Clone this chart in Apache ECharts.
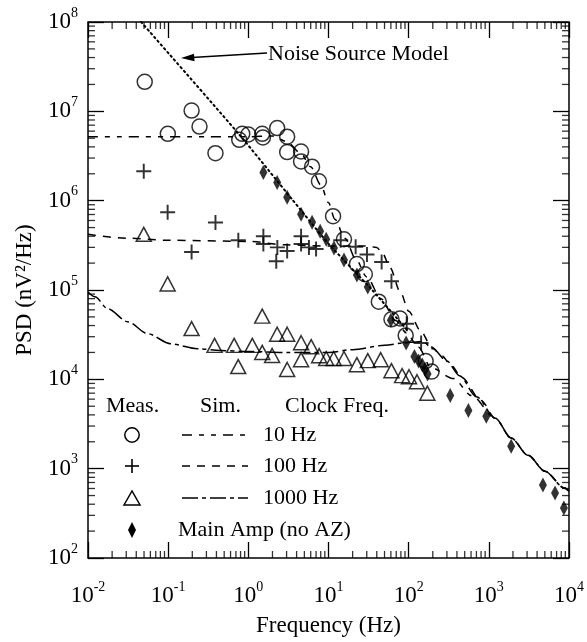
<!DOCTYPE html>
<html><head><meta charset="utf-8">
<script src="https://cdn.jsdelivr.net/npm/echarts@6/dist/echarts.min.js"></script>
<style>html,body{margin:0;padding:0;background:#fff}#c{width:587px;height:642px}</style>
</head><body><div id="c"></div>
<script>
// ---- axis decades (tick labels are 10^n) ----
const xDecades = [-2, -1, 0, 1, 2, 3, 4];
const yDecades = [2, 3, 4, 5, 6, 7, 8];

// ---- measured data: [frequency Hz, PSD nV^2/Hz] ----
const meas10Hz = [
  [0.051, 2.14e7], [0.099, 5.6e6], [0.196, 1.02e7], [0.246, 6.75e6], [0.389, 3.4e6],
  [0.77, 4.8e6], [0.84, 5.6e6], [1.0, 5.5e6], [1.49, 5.6e6], [1.52, 5.1e6],
  [2.29, 6.5e6], [3.05, 5.2e6], [3.05, 3.5e6], [4.55, 3.55e6], [4.55, 2.75e6],
  [6.24, 2.4e6], [7.6, 1.65e6], [11.4, 6.7e5], [15.6, 3.7e5], [22.6, 1.95e5],
  [28.4, 1.5e5], [42.4, 7.4e4], [61, 4.7e4], [78, 4.8e4], [91.8, 3.1e4],
  [163, 1.6e4], [193, 1.22e4]
];
const meas100Hz = [
  [0.0496, 2.13e6], [0.0985, 7.4e5], [0.196, 2.66e5], [0.389, 5.7e5], [0.75, 3.6e5],
  [1.54, 4.0e5], [1.54, 3.27e5], [2.3, 3.0e5], [2.23, 2.1e5], [3.05, 2.73e5],
  [4.55, 4.0e5], [4.55, 3.27e5], [5.7, 3.0e5], [7.0, 2.87e5], [14.2, 3.6e5],
  [21.8, 3.05e5], [30.2, 2.5e5], [46.0, 2.06e5], [61.0, 1.25e5], [94.5, 4.2e4],
  [143, 2.55e4]
];
const meas1000Hz = [
  [0.0496, 4.2e5], [0.0985, 1.17e5], [0.196, 3.7e4], [0.379, 2.4e4], [0.665, 2.4e4],
  [0.748, 1.39e4], [1.12, 2.4e4], [1.49, 5.1e4], [1.49, 2.0e4], [1.98, 1.85e4],
  [2.29, 3.2e4], [3.05, 3.2e4], [3.05, 1.29e4], [4.55, 2.57e4], [6.08, 2.32e4],
  [4.55, 1.66e4], [7.64, 1.84e4], [9.36, 1.71e4], [11.6, 1.71e4], [15.6, 1.71e4],
  [22.6, 1.46e4], [30.9, 1.62e4], [44.7, 1.66e4], [61.0, 1.25e4], [82.8, 1.1e4],
  [101, 1.07e4], [127, 9.4e3], [171, 7.0e3]
];
const mainAmp = [
  [1.54, 2.07e6], [2.29, 1.6e6], [3.05, 1.09e6], [4.55, 7.05e5], [6.24, 5.74e5],
  [7.87, 4.56e5], [9.36, 3.71e5], [11.7, 2.95e5], [15.6, 2.17e5], [22.6, 1.47e5],
  [30.9, 1.08e5], [60, 4.6e4], [93, 2.55e4], [118, 1.8e4], [133, 1.6e4],
  [148, 1.45e4], [160, 1.3e4], [172, 1.15e4], [330, 6.6e3], [556, 4.49e3],
  [930, 3.85e3], [1900, 1.78e3], [4730, 655], [6700, 533], [8640, 363]
];

// ---- simulated / model curves ----
const noiseModel = [
  [0.046, 1e8], [0.77, 5.5e6], [3.5, 1.04e6], [10, 3.3e5], [35, 1.0e5], [100, 3.4e4]
];
const simTail = [[1205, 3.66e3], [1900, 2.2e3], [3090, 1.41e3], [5000, 938], [8770, 607], [10000, 560]];
const sim10Hz = [
  [0.01, 5.2e6], [0.3, 5.2e6], [1, 5.2e6], [2, 5.3e6], [3, 4.6e6], [4.5, 3.4e6],
  [6, 2.4e6], [8, 1.5e6], [10, 9.5e5], [12, 6.2e5], [16, 3.8e5], [22, 2.2e5],
  [30, 1.4e5], [45, 8e4], [69, 4.55e4], [94, 3.3e4], [132, 2.3e4], [190, 1.35e4],
  [362, 1.02e4], [607, 6.6e3]
].concat(simTail);
const sim100Hz = [
  [0.01, 4.2e5], [0.03, 3.8e5], [0.1, 3.6e5], [1, 3.5e5], [3, 3.2e5], [10, 3.1e5],
  [30, 3.1e5], [40, 3.0e5], [48, 2.5e5], [58, 1.8e5], [80, 9.2e4], [100, 5.8e4],
  [141, 3.5e4], [193, 2.3e4], [257, 1.84e4], [342, 1.43e4], [455, 1.05e4], [800, 5.8e3]
].concat(simTail);
const sim1000Hz = [
  [0.01, 9.5e4], [0.0122, 8.4e4], [0.0177, 6.15e4], [0.0314, 4.4e4], [0.0557, 3.24e4],
  [0.107, 2.5e4], [0.232, 2.2e4], [0.45, 2.1e4], [1, 2.05e4], [3, 2.0e4], [10, 2.0e4],
  [20, 2.15e4], [50, 2.4e4], [100, 2.6e4], [150, 2.65e4], [200, 2.2e4], [300, 1.6e4],
  [430, 1.1e4], [700, 6.4e3]
].concat(simTail);

// ---- minor tick multipliers within each decade ----
const minorMult = [2, 3, 4, 5, 6, 7, 8, 9];
function minorTicks(decs) {
  const out = [];
  for (let i = 0; i < decs.length - 1; i++) {
    minorMult.forEach(m => out.push(m * Math.pow(10, decs[i])));
  }
  return out;
}
const X_MIN = Math.pow(10, xDecades[0]), X_MAX = Math.pow(10, xDecades[xDecades.length - 1]);
const Y_MIN = Math.pow(10, yDecades[0]), Y_MAX = Math.pow(10, yDecades[yDecades.length - 1]);
const xMinor = minorTicks(xDecades);
const yMinor = minorTicks(yDecades);

const FONT = 'Liberation Serif';
const powLabel = v => '{b|10}{s|' + Math.round(Math.log10(v)) + '}';
const richLab = {
  b: { fontSize: 23, fontFamily: FONT, color: '#000', lineHeight: 32 },
  s: { fontSize: 14, fontFamily: FONT, color: '#000', verticalAlign: 'top', lineHeight: 16 }
};

const chart = echarts.init(document.getElementById('c'), null, { renderer: 'canvas' });

const plusPath = 'path://M4.35,0H5.65V4.35H10V5.65H5.65V10H4.35V5.65H0V4.35H4.35Z';

function lineSeries(name, data, dash, width) {
  return {
    name, type: 'line', data, showSymbol: false, smooth: 0.3, smoothMonotone: 'x',
    lineStyle: { color: '#000', width: width || 1.5, type: dash }, z: 2, silent: true
  };
}

// minor tick marks drawn as short bar-like scatter symbols, nudged just inside the frame
const MINLEN = 7;
function minorSeries(vals, side) {
  const k = 1.0005;
  const data = vals.map(v => {
    if (side === 'bottom') return [v, Y_MIN * k];
    if (side === 'top') return [v, Y_MAX / k];
    if (side === 'left') return [X_MIN * k, v];
    return [X_MAX / k, v];
  });
  const vert = side === 'bottom' || side === 'top';
  const off = side === 'bottom' ? [0, -MINLEN / 2] : side === 'top' ? [0, MINLEN / 2] : side === 'left' ? [MINLEN / 2, 0] : [-MINLEN / 2, 0];
  return {
    type: 'scatter', data, symbol: 'rect', symbolSize: vert ? [1.3, MINLEN] : [MINLEN, 1.3],
    symbolOffset: off, clip: false, silent: true, z: 10, itemStyle: { color: '#000' }
  };
}

// legend and annotation graphics
const lg = [];
const txt = (x, y, t) => lg.push({ type: 'text', x: x, y: y, style: { text: t, font: '22px "' + FONT + '"', fill: '#000', verticalAlign: 'middle' } });
txt(106, 406, 'Meas.'); txt(200, 406, 'Sim.'); txt(285, 406, 'Clock Freq.');
txt(263, 435, '10 Hz'); txt(263, 466, '100 Hz'); txt(263, 498, '1000 Hz'); txt(178, 530, 'Main Amp (no AZ)');
txt(268, 54, 'Noise Source Model');
lg.push({ type: 'circle', shape: { cx: 132, cy: 435, r: 7.2 }, style: { fill: 'none', stroke: '#000', lineWidth: 1.5 } });
lg.push({ type: 'line', shape: { x1: 125, y1: 466, x2: 139, y2: 466 }, style: { stroke: '#000', lineWidth: 1.6 } });
lg.push({ type: 'line', shape: { x1: 132, y1: 459, x2: 132, y2: 473 }, style: { stroke: '#000', lineWidth: 1.6 } });
lg.push({ type: 'polygon', shape: { points: [[132, 491], [124, 505], [140, 505]] }, style: { fill: 'none', stroke: '#000', lineWidth: 1.5 } });
lg.push({ type: 'polygon', shape: { points: [[132, 522], [136, 530], [132, 538], [128, 530]] }, style: { fill: '#000' } });
lg.push({ type: 'line', shape: { x1: 182, y1: 435, x2: 248, y2: 435 }, style: { stroke: '#000', lineWidth: 1.5, lineDash: [10, 7, 5, 7, 5, 7] } });
lg.push({ type: 'line', shape: { x1: 182, y1: 466, x2: 248, y2: 466 }, style: { stroke: '#000', lineWidth: 1.5, lineDash: [8, 7] } });
lg.push({ type: 'line', shape: { x1: 182, y1: 498, x2: 248, y2: 498 }, style: { stroke: '#000', lineWidth: 1.5, lineDash: [16, 4, 4, 4] } });
lg.push({ type: 'line', shape: { x1: 267, y1: 53, x2: 192, y2: 57.4 }, style: { stroke: '#000', lineWidth: 1.5 } });
lg.push({ type: 'polygon', shape: { points: [[181, 58], [194, 53.8], [194.5, 61.2]] }, style: { fill: '#000' } });

const majorTick = { show: true, inside: true, length: 16, lineStyle: { color: '#000', width: 1.3 } };
const baseX = { type: 'log', logBase: 10, min: X_MIN, max: X_MAX, interval: 1, axisLine: { show: false }, splitLine: { show: false }, axisTick: majorTick };
const baseY = { type: 'log', logBase: 10, min: Y_MIN, max: Y_MAX, interval: 1, axisLine: { show: false }, splitLine: { show: false }, axisTick: majorTick };

const option = {
  animation: false,
  backgroundColor: '#fff',
  grid: { left: 88, right: 16, top: 22, bottom: 82, show: true, borderColor: '#000', borderWidth: 1.5, backgroundColor: 'transparent' },
  xAxis: [
    Object.assign({}, baseX, {
      position: 'bottom',
      axisLabel: { formatter: powLabel, rich: richLab, margin: 22 },
      name: 'Frequency (Hz)', nameLocation: 'middle', nameGap: 56,
      nameTextStyle: { fontSize: 23, fontFamily: FONT, color: '#000' }
    }),
    Object.assign({}, baseX, { position: 'top', axisLabel: { show: false } })
  ],
  yAxis: [
    Object.assign({}, baseY, {
      position: 'left',
      axisLabel: { formatter: powLabel, rich: richLab, margin: 10 },
      name: 'PSD (nV²/Hz)', nameLocation: 'middle', nameGap: 52,
      nameTextStyle: { fontSize: 23, fontFamily: FONT, color: '#000' }
    }),
    Object.assign({}, baseY, { position: 'right', axisLabel: { show: false } })
  ],
  graphic: { elements: lg },
  series: [
    {
      name: 'Noise Source Model', type: 'line', data: noiseModel, showSymbol: false, smooth: 0.2,
      lineStyle: { color: '#000', width: 2, type: [1.5, 3.5], cap: 'round' }, z: 2, silent: true
    },
    lineSeries('Sim 10 Hz', sim10Hz, [10, 7, 5, 7, 5, 7]),
    lineSeries('Sim 100 Hz', sim100Hz, [8, 7]),
    lineSeries('Sim 1000 Hz', sim1000Hz, [16, 4, 4, 4]),
    {
      name: 'Meas 10 Hz', type: 'scatter', data: meas10Hz, symbol: 'circle', symbolSize: 15,
      itemStyle: { color: 'rgba(0,0,0,0)', borderColor: '#000', borderWidth: 1.5 }, z: 3, silent: true
    },
    {
      name: 'Meas 100 Hz', type: 'scatter', data: meas100Hz, symbol: plusPath, symbolSize: 15,
      itemStyle: { color: '#000' }, z: 3, silent: true
    },
    {
      name: 'Meas 1000 Hz', type: 'scatter', data: meas1000Hz, symbol: 'triangle', symbolSize: [15, 14],
      itemStyle: { color: 'rgba(0,0,0,0)', borderColor: '#000', borderWidth: 1.5 }, z: 3, silent: true
    },
    {
      name: 'Main Amp (no AZ)', type: 'scatter', data: mainAmp, symbol: 'diamond', symbolSize: [8, 15],
      itemStyle: { color: '#000' }, z: 4, silent: true
    },
    minorSeries(xMinor, 'bottom'),
    minorSeries(xMinor, 'top'),
    minorSeries(yMinor, 'left'),
    minorSeries(yMinor, 'right')
  ]
};
chart.setOption(option);
</script></body></html>
